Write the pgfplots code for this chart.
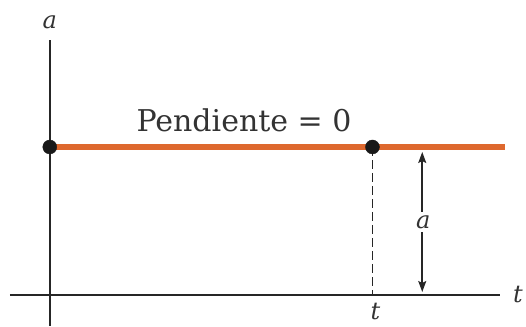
\documentclass[border=0pt]{standalone}
\usepackage{pgfplots}
\pgfplotsset{compat=1.18}
\usepackage{fontspec}
\setmainfont{DejaVu Serif}
\usetikzlibrary{arrows.meta}
\definecolor{slopeorange}{RGB}{222,104,46}
\begin{document}
\begin{tikzpicture}
\begin{axis}[
  scale only axis,
  width=490pt, height=286pt,
  xmin=-40, xmax=452, ymin=-31, ymax=255,
  axis lines=middle,
  axis line style={line width=1.9pt, draw=black!85, -},
  xtick=\empty, ytick=\empty,
  clip=false,
]
% bounding frame of the figure
\path (axis cs:-50,-31) rectangle (axis cs:476,295);
% acceleration constant: slope zero
\addplot[slopeorange, line width=6.5pt] coordinates {(0,148) (457,148)};
% drop from the second point to the time axis
\addplot[black!85, line width=1.6pt, dash pattern=on 9pt off 4pt] coordinates {(324,148) (324,0)};
% points on the line
\addplot[only marks, mark=*, mark size=7pt, black!90] coordinates {(0,148) (324,148)};
% height of the line
\addplot[black!85, line width=1.5pt, {Stealth[length=11pt,width=8pt,inset=2pt]}-{Stealth[length=11pt,width=8pt,inset=2pt]}] coordinates {(374,143) (374,3)};
\node[fill=white, inner sep=3pt, font=\fontsize{24}{24}\selectfont\itshape, text=black!80] at (axis cs:375,73) {a};
\node[anchor=base, font=\fontsize{30}{30}\selectfont, text=black!80] at (axis cs:195,163) {Pendiente = 0};
\node[font=\fontsize{24}{24}\selectfont\itshape, text=black!80] at (axis cs:0,273) {a};
\node[font=\fontsize{24}{24}\selectfont\itshape, text=black!80] at (axis cs:470,0) {t};
\node[font=\fontsize{24}{24}\selectfont\itshape, text=black!80] at (axis cs:327,-17) {t};
\end{axis}
\end{tikzpicture}
\end{document}
